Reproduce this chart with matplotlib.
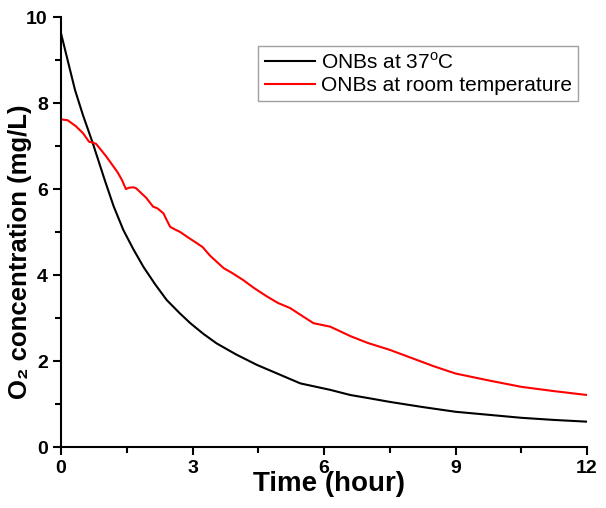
import numpy as np
import matplotlib.pyplot as plt
from matplotlib.ticker import MultipleLocator

plt.rcParams['font.family'] = ['Liberation Sans', 'DejaVu Sans']

# ONBs at 37 C
t_37 = [0, 0.15, 0.32, 0.5, 0.72, 1.0, 1.2, 1.42, 1.65, 1.88, 2.15, 2.41, 2.7, 2.95,
        3.25, 3.55, 4.0, 4.47, 5.0, 5.46, 6.14, 6.6, 7.0, 7.5, 8.25, 9.0, 9.75,
        10.5, 11.25, 12.0]
o2_37 = [9.62, 9.0, 8.3, 7.72, 7.08, 6.2, 5.6, 5.05, 4.6, 4.19, 3.78, 3.42, 3.12, 2.88,
         2.63, 2.41, 2.15, 1.91, 1.68, 1.48, 1.33, 1.21, 1.14, 1.05, 0.93, 0.82, 0.75,
         0.68, 0.63, 0.59]

# ONBs at room temperature
t_rt = [0, 0.15, 0.34, 0.5, 0.64, 0.72, 0.8, 1.03, 1.29, 1.39, 1.48, 1.55, 1.65, 1.71,
        1.94, 2.1, 2.2, 2.34, 2.4, 2.49, 2.6, 2.72, 2.89, 3.1, 3.23, 3.4, 3.71, 3.9,
        4.16, 4.4, 4.7, 4.95, 5.23, 5.5, 5.76, 6.14, 6.6, 7.0, 7.5, 8.0, 8.5, 9.0,
        9.75, 10.5, 11.25, 12.0]
o2_rt = [7.62, 7.6, 7.46, 7.3, 7.1, 7.08, 7.05, 6.76, 6.39, 6.21, 6.0, 6.03, 6.04, 6.02,
         5.8, 5.59, 5.55, 5.43, 5.3, 5.12, 5.06, 5.0, 4.88, 4.74, 4.65, 4.45, 4.16, 4.05,
         3.88, 3.7, 3.5, 3.35, 3.23, 3.05, 2.88, 2.8, 2.58, 2.42, 2.26, 2.07, 1.88, 1.71,
         1.55, 1.40, 1.3, 1.21]

fig = plt.figure(figsize=(6.06, 5.08), dpi=100)
ax = fig.add_axes([0.1007, 0.12, 0.868, 0.8465])

ax.plot(t_37, o2_37, color='black', linewidth=1.5, label='ONBs at 37$^\\mathregular{o}$C')
ax.plot(t_rt, o2_rt, color='red', linewidth=1.5, label='ONBs at room temperature')

ax.set_xlim(0, 12)
ax.set_ylim(0, 10)
ax.xaxis.set_major_locator(MultipleLocator(3))
ax.xaxis.set_minor_locator(MultipleLocator(1.5))
ax.yaxis.set_major_locator(MultipleLocator(2))
ax.yaxis.set_minor_locator(MultipleLocator(1))

ax.spines['top'].set_visible(False)
ax.spines['right'].set_visible(False)
for s in ['left', 'bottom']:
    ax.spines[s].set_linewidth(1.5)
ax.tick_params(which='major', direction='out', length=6, width=1.5, labelsize=14)
ax.tick_params(which='minor', direction='out', length=4, width=1.5)
for lbl in ax.get_xticklabels() + ax.get_yticklabels():
    lbl.set_fontweight('bold')

ax.set_xlabel('Time (hour)', fontsize=20, fontweight='bold')
ax.xaxis.set_label_coords(0.51, -0.055)
ax.xaxis.label.set_va('top')
ax.set_ylabel('O\u2082 concentration (mg/L)', fontsize=18.5, fontweight='bold')
ax.yaxis.set_label_coords(-0.056, 0.455)

leg = ax.legend(loc='upper right', bbox_to_anchor=(0.983, 0.933), fontsize=15,
                fancybox=False, edgecolor='#888888', handlelength=2.4,
                borderpad=0.3, labelspacing=0.15, handletextpad=0.3,
                borderaxespad=0)
leg.get_frame().set_linewidth(1.0)

fig.savefig('out.png', dpi=100)
